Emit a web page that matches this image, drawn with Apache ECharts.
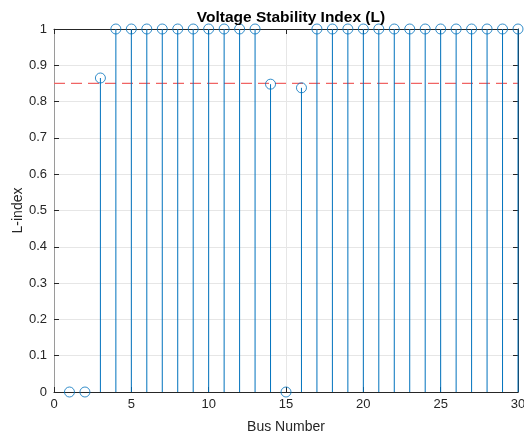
<!DOCTYPE html>
<html>
<head>
<meta charset="utf-8">
<script src="https://cdn.jsdelivr.net/npm/echarts@6/dist/echarts.min.js"></script>
<style>
  html, body { margin: 0; padding: 0; background: #fff; }
  #chart { width: 524px; height: 438px; }
</style>
</head>
<body>
<div id="chart"></div>
<script>
// Bus numbers and their L-index values
const busNumbers = [1,2,3,4,5,6,7,8,9,10,11,12,13,14,15,16,17,18,19,20,21,22,23,24,25,26,27,28,29,30];
const lIndex = [0,0,0.865,1,1,1,1,1,1,1,1,1,1,0.848,0,0.838,1,1,1,1,1,1,1,1,1,1,1,1,1,1];
const threshold = 0.85;
const xTicks = [0,5,10,15,20,25,30];
const yTicks = [0,0.1,0.2,0.3,0.4,0.5,0.6,0.7,0.8,0.9,1];

const points = busNumbers.map((b, i) => [b, lIndex[i]]);
const thresholdLine = [[xTicks[0], threshold], [xTicks[xTicks.length - 1], threshold]];
const stemColor = '#0072BD';
const font = 'Helvetica, Arial, "Liberation Sans", sans-serif';

const chart = echarts.init(document.getElementById('chart'), null, { renderer: 'canvas' });

const axisCommon = {
  axisLine: { show: true, onZero: false, lineStyle: { color: '#262626', width: 1, type: 'solid' } },
  axisTick: { show: true, inside: true, length: 5, lineStyle: { color: '#262626', type: 'solid' } },
  splitLine: { show: false }
};

chart.setOption({
  animation: false,
  title: {
    text: 'Voltage Stability Index (L)',
    left: 286, top: 5, textAlign: 'center',
    textStyle: { fontFamily: font, fontSize: 15.5, fontWeight: 'bold', color: '#000' }
  },
  grid: { left: 54, right: 6, top: 29, bottom: 46, containLabel: false, outerBoundsMode: 'none' },
  xAxis: [{
    type: 'value', min: 0, max: 30, interval: 5, position: 'bottom',
    name: 'Bus Number', nameLocation: 'middle', nameGap: 28, nameMoveOverlap: false,
    nameTextStyle: { fontFamily: font, fontSize: 14, color: '#262626' },
    axisLabel: { fontFamily: font, fontSize: 13, color: '#262626', margin: 6,
      formatter: v => xTicks.includes(v) ? String(v) : '' },
    ...axisCommon,
    splitLine: { show: true, lineStyle: { color: '#e6e6e6', width: 1, type: 'solid' } }
  }, {
    type: 'value', min: 0, max: 30, interval: 5, position: 'top',
    axisLabel: { show: false }, ...axisCommon
  }],
  yAxis: [{
    type: 'value', min: 0, max: 1, interval: 0.1, position: 'left',
    name: 'L-index', nameLocation: 'middle', nameGap: 29, nameMoveOverlap: false,
    nameTextStyle: { fontFamily: font, fontSize: 14, color: '#262626' },
    axisLabel: { fontFamily: font, fontSize: 13, color: '#262626', margin: 7,
      formatter: v => {
        const t = yTicks.find(y => Math.abs(y - v) < 1e-9);
        return t === undefined ? '' : String(t);
      } },
    ...axisCommon,
    axisLine: { show: true, onZero: false, lineStyle: { color: '#9a9a9a', width: 1, type: 'solid' } },
    splitLine: { show: true, lineStyle: { color: '#e6e6e6', width: 1, type: 'solid' } }
  }, {
    type: 'value', min: 0, max: 1, interval: 0.1, position: 'right',
    axisLabel: { show: false }, ...axisCommon
  }],
  series: [{
    // threshold reference line
    type: 'line',
    data: thresholdLine,
    symbol: 'none',
    z: 2,
    color: '#f06464',
    lineStyle: { color: '#f06464', type: [11, 6], width: 1.2, opacity: 1 }
  }, {
    // stems from the baseline up to each value
    type: 'custom',
    data: points,
    z: 3,
    renderItem: (params, api) => {
      const top = api.coord([api.value(0), api.value(1)]);
      const base = api.coord([api.value(0), 0]);
      return {
        type: 'line',
        shape: { x1: top[0], y1: top[1], x2: base[0], y2: base[1] },
        style: { stroke: stemColor, lineWidth: 1, lineDash: null }
      };
    }
  }, {
    // open circle markers at each stem tip
    type: 'scatter',
    data: points,
    symbol: 'circle',
    symbolSize: 10,
    z: 4,
    itemStyle: { color: 'rgba(255,255,255,0)', borderColor: stemColor, borderWidth: 1 }
  }]
});
</script>
</body>
</html>
